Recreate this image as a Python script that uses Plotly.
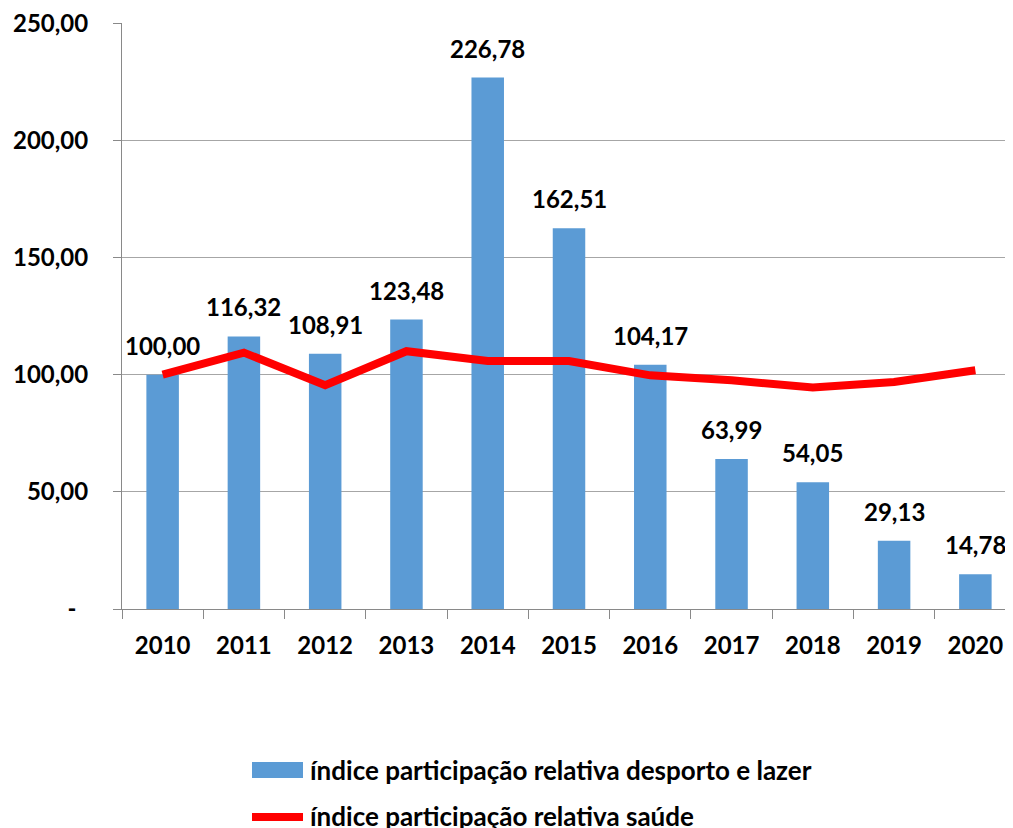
import plotly.graph_objects as go

years = ["2010", "2011", "2012", "2013", "2014", "2015", "2016", "2017", "2018", "2019", "2020"]
desporto = [100.00, 116.32, 108.91, 123.48, 226.78, 162.51, 104.17, 63.99, 54.05, 29.13, 14.78]
saude = [100.0, 109.4, 95.5, 110.0, 105.8, 105.8, 99.7, 97.6, 94.5, 96.9, 101.9]
name_bar = "índice participação relativa desporto e lazer"
name_line = "índice participação relativa saúde"
ytick_vals = [0, 50, 100, 150, 200, 250]
ytick_text = ["-\u00a0\u00a0", "50,00", "100,00", "150,00", "200,00", "250,00"]

W, H = 1013, 828
L, R, T, B = 114, 5, 15, 227
pw, ph = W - L - R, H - T - B
FONT = "Lato"
BLUE = "#5B9BD5"
RED = "#FF0000"
OFF = 8  # page body margin offset

def px2paper_x(px):
    return (px - OFF - L) / pw

def px2paper_y(py):
    return (H - B - (py - OFF)) / ph

fig = go.Figure()
fig.add_trace(go.Bar(x=years, y=desporto, name=name_bar, marker=dict(color=BLUE, line=dict(width=0)),
                     showlegend=False))
fig.add_trace(go.Scatter(x=years, y=saude, name=name_line, mode="lines",
                         line=dict(color=RED, width=8), showlegend=False))

annotations = []
for i, v in enumerate(desporto):
    annotations.append(dict(x=i, y=v, xref="x", yref="y", text=f"{v:.2f}".replace(".", ","),
                            showarrow=False, yanchor="bottom", yshift=13,
                            font=dict(family=FONT, size=24, color="black", weight="bold")))

# manual legend
shapes = [
    dict(type="rect", xref="paper", yref="paper", x0=px2paper_x(252), x1=px2paper_x(303),
         y0=px2paper_y(778), y1=px2paper_y(762), fillcolor=BLUE, line=dict(width=0)),
    dict(type="line", xref="paper", yref="paper", x0=px2paper_x(252), x1=px2paper_x(303),
         y0=px2paper_y(817), y1=px2paper_y(817), line=dict(color=RED, width=8)),
]
for py, txt in [(770, name_bar), (816, name_line)]:
    annotations.append(dict(x=px2paper_x(308), y=px2paper_y(py), xref="paper", yref="paper",
                            text=txt, showarrow=False, xanchor="left", yanchor="middle",
                            font=dict(family=FONT, size=26, color="black", weight="bold")))

fig.update_layout(
    width=W, height=H,
    margin=dict(l=L, r=R, t=T, b=B, pad=0, autoexpand=False),
    plot_bgcolor="white", paper_bgcolor="white",
    bargap=0.6,
    showlegend=False,
    annotations=annotations,
    shapes=shapes,
    font=dict(family=FONT, size=24, color="black"),
)
fig.update_xaxes(type="category", range=[-0.5, len(years) - 0.5], showgrid=False, showline=True,
                 linecolor="#898989", linewidth=1, automargin=False,
                 ticks="outside", ticklen=9, tickcolor="#898989", tickson="boundaries",
                 tickangle=0,
                 tickfont=dict(family=FONT, size=24, color="black", weight="bold"),
                 ticklabelstandoff=15)
fig.update_yaxes(range=[0, 250.05], tickvals=ytick_vals, ticktext=ytick_text,
                 showgrid=True, gridcolor="#A6A6A6", gridwidth=1, automargin=False,
                 showline=True, linecolor="#898989", linewidth=1,
                 ticks="outside", ticklen=8, tickcolor="#898989",
                 ticklabeloverflow="allow",
                 tickfont=dict(family=FONT, size=24, color="black", weight="bold"),
                 ticklabelstandoff=20, zeroline=False)

fig.write_html("out.html")
